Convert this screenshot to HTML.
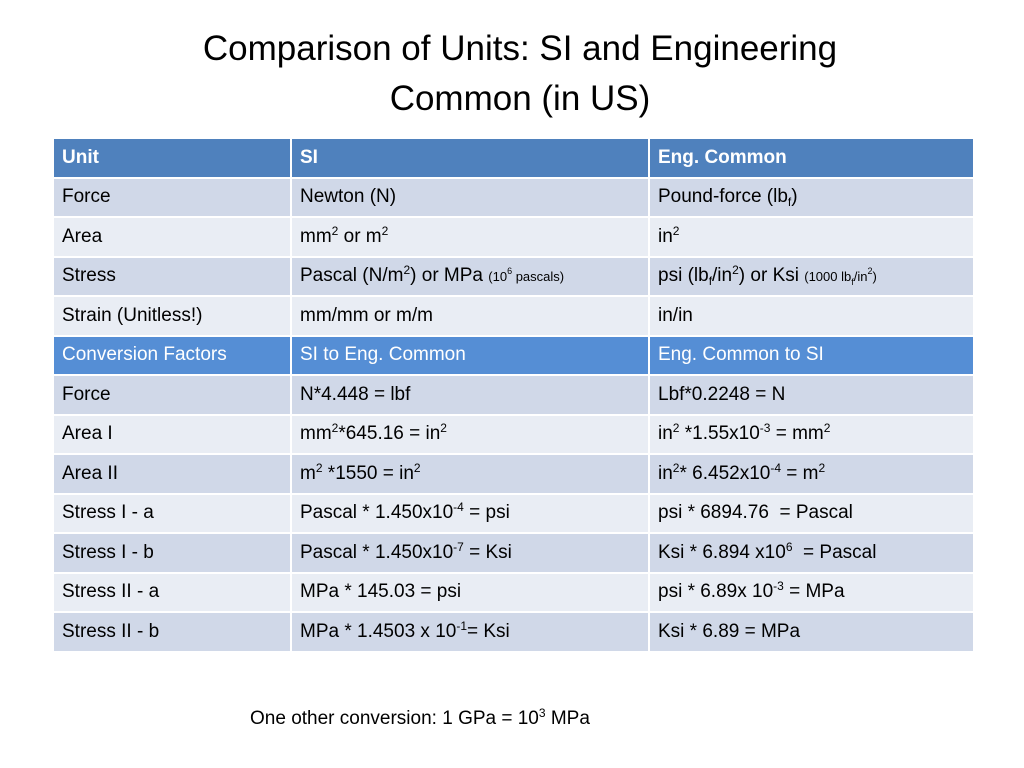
<!DOCTYPE html>
<html><head><meta charset="utf-8"><style>
body{margin:0;width:1024px;height:768px;background:#fff;font-family:"Liberation Sans",sans-serif;overflow:hidden;position:relative}
h1{position:absolute;left:0;top:24px;width:1040px;margin:0;text-align:center;font-weight:normal;font-size:35px;line-height:50px;color:#000}
table{position:absolute;left:52px;top:137px;width:921px;border-collapse:collapse;table-layout:fixed}
td{border:2px solid #fff;height:37.5px;padding:0 0 0 8px;font-size:19px;color:#000;white-space:nowrap}
tr.h td{background:#4F81BD;color:#fff;font-weight:bold}
tr.c td{background:#558ED5;color:#fff}
tr.a td{background:#D0D8E8}
tr.b td{background:#E9EDF4}
sup{font-size:12px;vertical-align:7px;line-height:0}
sub{font-size:12px;vertical-align:-4px;line-height:0}
small{font-size:13px}
.note{position:absolute;left:250px;top:708px;font-size:19px}
</style></head><body>
<h1>Comparison of Units: SI and Engineering<br>Common (in US)</h1>
<table>
<colgroup><col style="width:238px"><col style="width:358px"><col style="width:325px"></colgroup>
<tr class="h"><td>Unit</td><td>SI</td><td>Eng. Common</td></tr>
<tr class="a"><td>Force</td><td>Newton (N)</td><td>Pound-force (lb<sub>f</sub>)</td></tr>
<tr class="b"><td>Area</td><td>mm<sup>2</sup> or m<sup>2</sup></td><td>in<sup>2</sup></td></tr>
<tr class="a"><td>Stress</td><td>Pascal (N/m<sup>2</sup>) or MPa <small>(10<sup style="font-size:9px">6</sup> pascals)</small></td><td>psi (lb<sub>f</sub>/in<sup>2</sup>) or Ksi <small>(1000 lb<sub style="font-size:9px">f</sub>/in<sup style="font-size:9px">2</sup>)</small></td></tr>
<tr class="b"><td>Strain (Unitless!)</td><td>mm/mm or m/m</td><td>in/in</td></tr>
<tr class="c"><td>Conversion Factors</td><td>SI to Eng. Common</td><td>Eng. Common to SI</td></tr>
<tr class="a"><td>Force</td><td>N*4.448 = lbf</td><td>Lbf*0.2248 = N</td></tr>
<tr class="b"><td>Area I</td><td>mm<sup>2</sup>*645.16 = in<sup>2</sup></td><td>in<sup>2</sup> *1.55x10<sup>-3</sup> = mm<sup>2</sup></td></tr>
<tr class="a"><td>Area II</td><td>m<sup>2</sup> *1550 = in<sup>2</sup></td><td>in<sup>2</sup>* 6.452x10<sup>-4</sup> = m<sup>2</sup></td></tr>
<tr class="b"><td>Stress I - a</td><td>Pascal * 1.450x10<sup>-4</sup> = psi</td><td>psi * 6894.76 &nbsp;= Pascal</td></tr>
<tr class="a"><td>Stress I - b</td><td>Pascal * 1.450x10<sup>-7</sup> = Ksi</td><td>Ksi * 6.894 x10<sup>6</sup> &nbsp;= Pascal</td></tr>
<tr class="b"><td>Stress II - a</td><td>MPa * 145.03 = psi</td><td>psi * 6.89x 10<sup>-3</sup> = MPa</td></tr>
<tr class="a"><td>Stress II - b</td><td>MPa * 1.4503 x 10<sup>-1</sup>= Ksi</td><td>Ksi * 6.89 = MPa</td></tr>
</table>
<div class="note">One other conversion: 1 GPa = 10<sup>3</sup> MPa</div>
</body></html>
